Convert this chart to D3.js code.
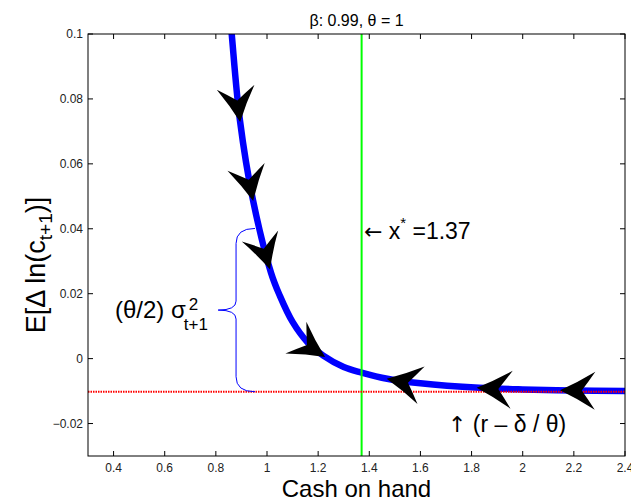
<!DOCTYPE html>
<html>
<head>
<meta charset="utf-8">
<script src="https://cdn.jsdelivr.net/npm/d3@7"></script>
<style>
  body { margin: 0; background: #fff; }
  text { font-family: "Liberation Sans", Arial, Helvetica, sans-serif; }
</style>
</head>
<body>
<svg id="chart" width="631" height="501"></svg>
<script>
// ---- data ----
const title = "β: 0.99, θ = 1";
const xTicks = [0.4, 0.6, 0.8, 1, 1.2, 1.4, 1.6, 1.8, 2, 2.2, 2.4];
const yTicks = [-0.02, 0, 0.02, 0.04, 0.06, 0.08, 0.1];
const xDomain = [0.3, 2.4];
const yDomain = [-0.03, 0.1];
const curveX = [0.85, 0.862, 0.894, 0.945, 1.016, 1.05, 1.10, 1.16, 1.22, 1.30, 1.37, 1.47, 1.60, 1.83, 2.0, 2.2, 2.4];
const curveY = [0.111, 0.1, 0.0735, 0.0489, 0.0264, 0.0194, 0.0113, 0.0049, 0.0009, -0.0026, -0.0043, -0.0062, -0.0076, -0.0090, -0.0095, -0.0098, -0.0100];
const xStar = 1.37;
const floorY = -0.0102;            // r - delta/theta
const arrowX = [0.895, 0.946, 1.012, 1.227, 1.468, 1.82, 2.146];
const braceX = [0.953, 0.879, 0.809];   // end, spine, tip
const braceY = [0.0401, floorY];

// ---- layout ----
const svg = d3.select("#chart");
const L = 88, R = 625, T = 34, B = 456;
const x = d3.scaleLinear().domain(xDomain).range([L, R]);
const y = d3.scaleLinear().domain(yDomain).range([B, T]);

svg.append("defs").append("clipPath").attr("id", "clip")
  .append("rect").attr("x", L).attr("y", T).attr("width", R - L).attr("height", B - T);

const plot = svg.append("g").attr("clip-path", "url(#clip)");

// blue curve
const pts = curveX.map((d, i) => [d, curveY[i]]);
const line = d3.line().x(d => x(d[0])).y(d => y(d[1])).curve(d3.curveCatmullRom.alpha(0.5));
const curvePath = plot.append("path").datum(pts)
  .attr("d", line).attr("fill", "none")
  .attr("stroke", "#0000ff").attr("stroke-width", 6.5).attr("stroke-linejoin", "round");

// green vertical
plot.append("line").attr("x1", x(xStar)).attr("x2", x(xStar)).attr("y1", T).attr("y2", B)
  .attr("stroke", "#00ff00").attr("stroke-width", 2);

// red dotted
plot.append("line").attr("x1", L).attr("x2", R).attr("y1", y(floorY)).attr("y2", y(floorY))
  .attr("stroke", "#ff0000").attr("stroke-width", 2).attr("stroke-dasharray", "1.5,1");

// brace
{
  const xe = x(braceX[0]), xv = x(braceX[1]), xt = x(braceX[2]);
  const yt = y(braceY[0]), yb = y(braceY[1]), ym = (yt + yb) / 2;
  const r = 15, r2 = 9;
  const d = `M${xe},${yt} Q${xv},${yt} ${xv},${yt + r} L${xv},${ym - r2} Q${xv},${ym} ${xt},${ym}` +
            ` Q${xv},${ym} ${xv},${ym + r2} L${xv},${yb - r} Q${xv},${yb} ${xe},${yb}`;
  svg.append("path").attr("d", d).attr("fill", "none").attr("stroke", "#0000ff").attr("stroke-width", 1);
}

// arrows along the curve
{
  const node = curvePath.node();
  const total = node.getTotalLength();
  function lenAtX(px) {
    let lo = 0, hi = total;
    for (let k = 0; k < 40; k++) {
      const mid = (lo + hi) / 2;
      if (node.getPointAtLength(mid).x < px) lo = mid; else hi = mid;
    }
    return (lo + hi) / 2;
  }
  const AL = 35, AW = 19;
  const head = `M0,0 Q${-0.5*AL},${-0.42*AW} ${-AL},${-AW} Q${-0.8*AL},${-0.45*AW} ${-0.62*AL},0` +
               ` Q${-0.8*AL},${0.45*AW} ${-AL},${AW} Q${-0.5*AL},${0.42*AW} 0,0 Z`;
  arrowX.forEach(ax => {
    const l = lenAtX(x(ax));
    const p = node.getPointAtLength(l);
    const p1 = node.getPointAtLength(Math.max(0, l - 3));
    const p2 = node.getPointAtLength(Math.min(total, l + 3));
    let ang = Math.atan2(p2.y - p1.y, p2.x - p1.x) * 180 / Math.PI;
    if (ax > xStar) ang += 180;
    svg.append("path").attr("d", head).attr("fill", "#000")
      .attr("transform", `translate(${p.x},${p.y}) rotate(${ang})`);
  });
}

// axes box
svg.append("rect").attr("x", L).attr("y", T).attr("width", R - L).attr("height", B - T)
  .attr("fill", "none").attr("stroke", "#000").attr("stroke-width", 1);

const tl = 5;
const fmt = d => (d < 0 ? "\u2212" : "") + String(Math.abs(d));
svg.append("g").selectAll("line").data(xTicks).join("line")
  .attr("x1", d => x(d)).attr("x2", d => x(d)).attr("y1", B).attr("y2", B - tl).attr("stroke", "#000");
svg.append("g").selectAll("line").data(xTicks).join("line")
  .attr("x1", d => x(d)).attr("x2", d => x(d)).attr("y1", T).attr("y2", T + tl).attr("stroke", "#000");
svg.append("g").selectAll("line").data(yTicks).join("line")
  .attr("x1", L).attr("x2", L + tl).attr("y1", d => y(d)).attr("y2", d => y(d)).attr("stroke", "#000");
svg.append("g").selectAll("line").data(yTicks).join("line")
  .attr("x1", R).attr("x2", R - tl).attr("y1", d => y(d)).attr("y2", d => y(d)).attr("stroke", "#000");

svg.append("g").selectAll("text").data(xTicks).join("text")
  .attr("x", d => x(d)).attr("y", 472).attr("text-anchor", "middle")
  .attr("font-size", 12).attr("fill", "#222").text(fmt);
svg.append("g").selectAll("text").data(yTicks).join("text")
  .attr("x", L - 5).attr("y", d => y(d) + 4).attr("text-anchor", "end")
  .attr("font-size", 12).attr("fill", "#222").text(fmt);

// title & labels
svg.append("text").attr("x", (L + R) / 2).attr("y", 26).attr("text-anchor", "middle")
  .attr("font-size", 16).text(title);
svg.append("text").attr("x", (L + R) / 2).attr("y", 497).attr("text-anchor", "middle")
  .attr("font-size", 24).text("Cash on hand");

{
  const t = svg.append("text").attr("transform", "translate(45,265) rotate(-90)")
    .attr("text-anchor", "middle").attr("font-size", 27);
  t.append("tspan").text("E[\u0394 ln(c");
  t.append("tspan").attr("font-size", 19).attr("dy", 7).text("t+1");
  t.append("tspan").attr("dy", -7).text(")]");
}

// annotations
{
  const bx = x(0.4056), by = y(0.0125);
  const t = svg.append("text").attr("x", bx).attr("y", by).attr("font-size", 24).text("(θ/2) σ");
  const w = t.node().getComputedTextLength();
  svg.append("text").attr("x", bx + w + 3).attr("y", by - 8).attr("font-size", 17).text("2");
  svg.append("text").attr("x", bx + w - 2).attr("y", by + 12).attr("font-size", 17).text("t+1");
}
{
  const t = svg.append("text").attr("x", x(1.379)).attr("y", y(0.0367)).attr("font-size", 23);
  t.append("tspan").attr("font-family", "DejaVu Sans").attr("font-size", 22).text("\u2190");
  t.append("tspan").text(" x");
  t.append("tspan").attr("font-size", 15).attr("dy", -11).text("*");
  t.append("tspan").attr("dy", 11).text(" =1.37");
}
{
  const t = svg.append("text").attr("x", x(1.708)).attr("y", y(-0.0225)).attr("font-size", 23);
  t.append("tspan").attr("font-family", "DejaVu Sans").attr("font-size", 22).text("\u2191");
  t.append("tspan").text(" (r \u2013 \u03b4 / \u03b8)");
}
</script>
</body>
</html>
